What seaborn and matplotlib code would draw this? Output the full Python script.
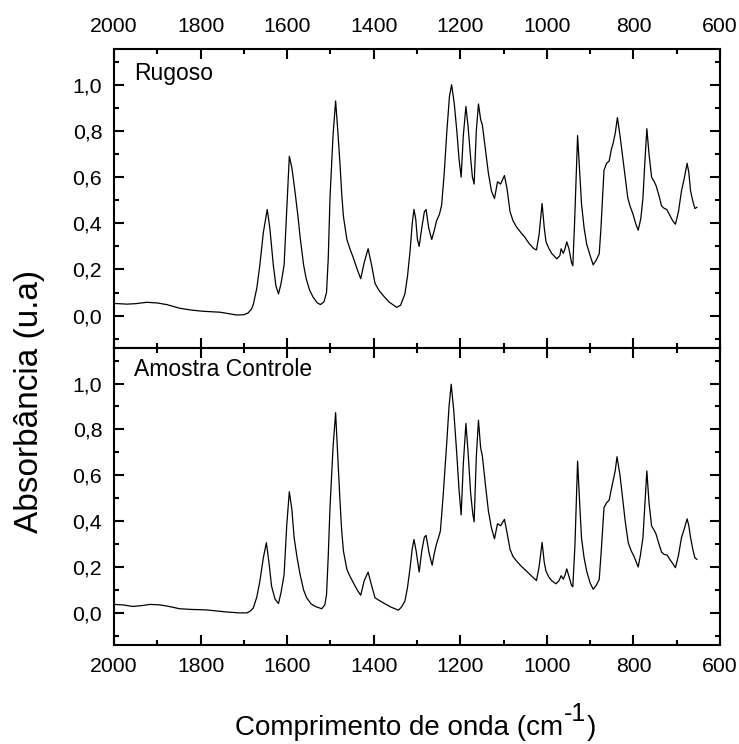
import matplotlib
matplotlib.use("Agg")
import matplotlib.pyplot as plt
import seaborn as sns
import pandas as pd
from matplotlib.ticker import MultipleLocator, FuncFormatter

# ---------------- data ----------------
wavenumber_rugoso = [
    2000, 1970, 1950, 1924, 1900, 1878, 1848, 1820, 1794, 1755, 1717, 1700, 1690, 1682, 1678,
    1670, 1663, 1655, 1646, 1640, 1632, 1626, 1620, 1614, 1607, 1600, 1595, 1589, 1582, 1575,
    1570, 1562, 1556, 1548, 1540, 1530, 1523, 1515, 1509, 1505, 1501, 1494, 1488, 1483, 1478,
    1474, 1470, 1462, 1455, 1447, 1438, 1430, 1422, 1413, 1405, 1397, 1388, 1378, 1365, 1347,
    1338, 1328, 1322, 1316, 1311, 1307, 1303, 1299, 1295, 1289, 1283, 1279, 1273, 1266, 1260,
    1255, 1248, 1243, 1237, 1231, 1225, 1220, 1214, 1208, 1203, 1198, 1193, 1187, 1182, 1176,
    1172, 1168, 1163, 1158, 1153, 1149, 1142, 1135, 1128, 1121, 1114, 1107, 1098, 1092, 1085,
    1078, 1070, 1060, 1051, 1040, 1030, 1024, 1018, 1011, 1006, 1002, 995, 989, 977, 970,
    967, 962, 958, 954, 949, 943, 940, 936, 929, 924, 920, 914, 908, 900, 893,
    886, 879, 875, 868, 862, 856, 851, 847, 842, 837, 831, 825, 819, 813, 807,
    801, 795, 789, 783, 778, 774, 769, 764, 758, 752, 748, 741, 735, 729, 723,
    716, 709, 703, 696, 689, 682, 676, 672, 668, 662, 658, 653]
absorb_rugoso = [
    0.053, 0.050, 0.052, 0.058, 0.055, 0.048, 0.032, 0.024, 0.019, 0.015, 0.003, 0.004, 0.012, 0.030, 0.050,
    0.120, 0.220, 0.360, 0.460, 0.380, 0.220, 0.130, 0.094, 0.140, 0.220, 0.500, 0.690, 0.640, 0.540, 0.430,
    0.340, 0.220, 0.160, 0.110, 0.080, 0.055, 0.048, 0.060, 0.100, 0.250, 0.510, 0.780, 0.930, 0.800, 0.660,
    0.530, 0.430, 0.330, 0.290, 0.250, 0.200, 0.160, 0.230, 0.290, 0.220, 0.140, 0.110, 0.087, 0.060, 0.036,
    0.045, 0.094, 0.170, 0.280, 0.400, 0.460, 0.420, 0.330, 0.300, 0.380, 0.450, 0.460, 0.380, 0.330, 0.370,
    0.410, 0.440, 0.480, 0.620, 0.800, 0.950, 1.000, 0.920, 0.800, 0.680, 0.600, 0.780, 0.906, 0.820, 0.680,
    0.600, 0.570, 0.800, 0.917, 0.850, 0.826, 0.720, 0.616, 0.540, 0.507, 0.580, 0.570, 0.607, 0.550, 0.450,
    0.410, 0.384, 0.360, 0.340, 0.310, 0.290, 0.285, 0.350, 0.486, 0.380, 0.320, 0.290, 0.270, 0.246, 0.260,
    0.290, 0.270, 0.290, 0.320, 0.290, 0.230, 0.216, 0.400, 0.780, 0.620, 0.486, 0.380, 0.310, 0.260, 0.220,
    0.240, 0.268, 0.380, 0.630, 0.660, 0.670, 0.720, 0.746, 0.790, 0.858, 0.780, 0.690, 0.600, 0.510, 0.470,
    0.440, 0.400, 0.370, 0.420, 0.510, 0.650, 0.810, 0.700, 0.600, 0.580, 0.565, 0.520, 0.475, 0.465, 0.460,
    0.435, 0.410, 0.396, 0.450, 0.540, 0.600, 0.660, 0.620, 0.540, 0.490, 0.464, 0.470]

wavenumber_controle = [
    2000, 1980, 1956, 1935, 1917, 1895, 1878, 1848, 1820, 1786, 1760, 1740, 1710, 1693, 1685,
    1678, 1670, 1663, 1655, 1648, 1642, 1636, 1628, 1620, 1614, 1607, 1601, 1595, 1589, 1584,
    1577, 1570, 1562, 1555, 1545, 1535, 1520, 1513, 1509, 1505, 1501, 1494, 1488, 1483, 1478,
    1474, 1470, 1462, 1455, 1447, 1438, 1430, 1422, 1413, 1405, 1397, 1388, 1378, 1360, 1343,
    1336, 1328, 1322, 1316, 1311, 1307, 1302, 1295, 1289, 1283, 1279, 1272, 1265, 1260, 1255,
    1250, 1246, 1240, 1231, 1226, 1221, 1215, 1208, 1203, 1198, 1193, 1187, 1182, 1176, 1171,
    1168, 1163, 1158, 1153, 1149, 1142, 1135, 1128, 1121, 1114, 1107, 1098, 1092, 1085, 1078,
    1070, 1060, 1047, 1035, 1024, 1018, 1011, 1006, 1002, 995, 989, 979, 972, 967, 962,
    958, 954, 949, 943, 940, 935, 929, 924, 920, 914, 908, 900, 893, 886, 879,
    874, 868, 862, 856, 851, 847, 842, 838, 831, 825, 819, 812, 805, 799, 789,
    784, 778, 774, 769, 764, 758, 752, 748, 741, 735, 729, 722, 716, 709, 703,
    696, 689, 682, 676, 672, 668, 662, 658, 653]
absorb_controle = [
    0.037, 0.035, 0.028, 0.032, 0.037, 0.035, 0.030, 0.018, 0.015, 0.013, 0.008, 0.004, 0.000, 0.000, 0.008,
    0.022, 0.070, 0.138, 0.240, 0.306, 0.220, 0.117, 0.060, 0.041, 0.090, 0.167, 0.380, 0.528, 0.450, 0.330,
    0.240, 0.167, 0.100, 0.066, 0.040, 0.028, 0.018, 0.035, 0.080, 0.250, 0.460, 0.720, 0.873, 0.680, 0.490,
    0.360, 0.270, 0.190, 0.160, 0.131, 0.100, 0.077, 0.140, 0.178, 0.120, 0.066, 0.055, 0.044, 0.025, 0.012,
    0.025, 0.051, 0.110, 0.196, 0.280, 0.320, 0.270, 0.178, 0.270, 0.330, 0.338, 0.260, 0.208, 0.260, 0.300,
    0.330, 0.357, 0.500, 0.750, 0.900, 0.997, 0.880, 0.690, 0.540, 0.427, 0.650, 0.826, 0.700, 0.520, 0.430,
    0.397, 0.680, 0.840, 0.720, 0.684, 0.560, 0.444, 0.370, 0.323, 0.389, 0.380, 0.408, 0.350, 0.277, 0.245,
    0.226, 0.205, 0.182, 0.160, 0.141, 0.200, 0.307, 0.220, 0.182, 0.155, 0.141, 0.127, 0.140, 0.162, 0.147,
    0.165, 0.192, 0.160, 0.120, 0.114, 0.300, 0.662, 0.470, 0.328, 0.240, 0.182, 0.130, 0.103, 0.120, 0.146,
    0.280, 0.459, 0.480, 0.492, 0.540, 0.575, 0.620, 0.681, 0.600, 0.502, 0.400, 0.306, 0.270, 0.248, 0.200,
    0.250, 0.328, 0.460, 0.619, 0.480, 0.379, 0.360, 0.345, 0.300, 0.265, 0.255, 0.252, 0.233, 0.215, 0.197,
    0.250, 0.328, 0.370, 0.410, 0.380, 0.328, 0.270, 0.240, 0.233]

panel_labels = ["Rugoso", "Amostra Controle"]
x_ticks = [2000, 1800, 1600, 1400, 1200, 1000, 800, 600]
y_ticks = [0.0, 0.2, 0.4, 0.6, 0.8, 1.0]
xlabel_main = "Comprimento de onda (cm"
xlabel_sup = "-1"
xlabel_end = ")"
ylabel_text = "Absorbância (u.a)"

# ---------------- style ----------------
sns.set_style("ticks")
plt.rcParams["font.family"] = ["Liberation Sans", "DejaVu Sans"]

W, H = 739, 744
fig = plt.figure(figsize=(W / 100, H / 100), dpi=100)
left, width = 114 / W, (720 - 114) / W
ax_top = fig.add_axes([left, 1 - 348 / H, width, (348 - 49) / H])
ax_bot = fig.add_axes([left, 1 - 645 / H, width, (645 - 348) / H])

df_r = pd.DataFrame({"x": wavenumber_rugoso, "y": absorb_rugoso})
df_c = pd.DataFrame({"x": wavenumber_controle, "y": absorb_controle})

sns.lineplot(data=df_r, x="x", y="y", ax=ax_top, color="black", linewidth=0.9,
             sort=False, estimator=None)
sns.lineplot(data=df_c, x="x", y="y", ax=ax_bot, color="black", linewidth=0.9,
             sort=False, estimator=None)

comma = FuncFormatter(lambda v, p: f"{v:.1f}".replace(".", ","))

TICK_FS = 15.3
for ax, lab, base_y in zip([ax_top, ax_bot], panel_labels, [80, 376]):
    ax.set_xlim(2000, 600)
    ax.set_ylim(-0.14, 1.155)
    ax.set_xticks(x_ticks)
    ax.set_yticks(y_ticks)
    ax.xaxis.set_minor_locator(MultipleLocator(100))
    ax.yaxis.set_minor_locator(MultipleLocator(0.1))
    ax.yaxis.set_major_formatter(comma)
    ax.set_xlabel("")
    ax.set_ylabel("")
    for s in ax.spines.values():
        s.set_visible(True)
        s.set_linewidth(1.5)
        s.set_color("black")
    ax.tick_params(which="both", direction="in", top=True, bottom=True,
                   left=True, right=True, width=1.5, color="black",
                   labelsize=TICK_FS, labelcolor="black")
    ax.tick_params(which="major", length=7)
    ax.tick_params(which="minor", length=3.5)
    fig.text(134 / W, 1 - base_y / H, lab, ha="left", va="baseline",
             fontsize=16.5, color="black")

ax_top.tick_params(axis="x", which="both", labeltop=True, labelbottom=False, pad=9)
ax_bot.tick_params(axis="x", which="both", labeltop=False, labelbottom=True, pad=9)
ax_top.tick_params(axis="y", pad=8.5)
ax_bot.tick_params(axis="y", pad=8.5)

fig.text(30 / W, 1 - 401 / H, ylabel_text, rotation=90,
         ha="center", va="center", fontsize=24, color="black")

# x label with a raised superscript
XL_FS = 20
base = 1 - 735 / H
t1 = fig.text(0, base, xlabel_main, ha="left", va="baseline", fontsize=XL_FS, color="black")
t2 = fig.text(0, base, xlabel_sup, ha="left", va="baseline", fontsize=18, color="black")
t3 = fig.text(0, base, xlabel_end, ha="left", va="baseline", fontsize=XL_FS, color="black")
fig.canvas.draw()
r = fig.canvas.get_renderer()
w1 = t1.get_window_extent(r).width
w2 = t2.get_window_extent(r).width
w3 = t3.get_window_extent(r).width
total = w1 + w2 + w3
x0 = 415 - total / 2
t1.set_x(x0 / W)
t2.set_x((x0 + w1 + 1) / W)
t2.set_y(1 - 721 / H)
t3.set_x((x0 + w1 + w2 + 1) / W)

fig.savefig("out.png", dpi=100, facecolor="white")
